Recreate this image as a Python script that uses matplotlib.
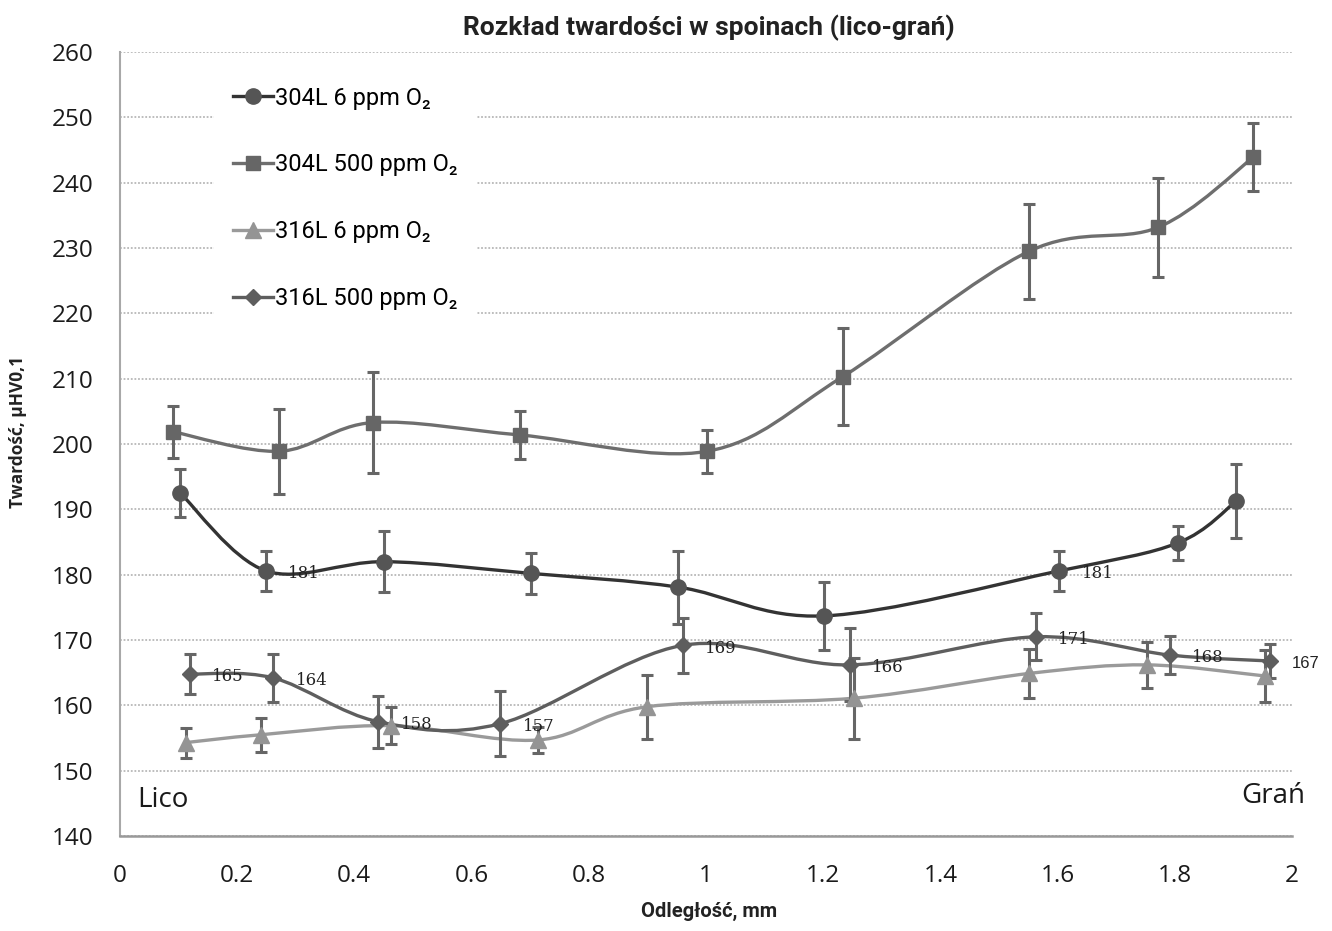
import matplotlib
matplotlib.use("Agg")
import matplotlib.pyplot as plt
from matplotlib.path import Path
from matplotlib.patches import PathPatch
from matplotlib.lines import Line2D

# 304L 6 ppm O2
x_304_6 = [0.103, 0.249, 0.451, 0.702, 0.953, 1.202, 1.603, 1.806, 1.905]
y_304_6 = [192.5, 180.6, 182.0, 180.2, 178.1, 173.7, 180.6, 184.9, 191.3]
e_304_6 = [3.7, 3.1, 4.7, 3.2, 5.6, 5.2, 3.1, 2.6, 5.6]
lab_304_6 = ["", "181", "", "", "", "", "181", "", ""]

# 304L 500 ppm O2
x_304_500 = [0.090, 0.272, 0.432, 0.682, 1.002, 1.233, 1.551, 1.772, 1.934]
y_304_500 = [201.9, 198.9, 203.3, 201.4, 198.9, 210.3, 229.5, 233.2, 243.9]
e_304_500 = [4.0, 6.5, 7.8, 3.7, 3.3, 7.4, 7.3, 7.6, 5.2]

# 316L 6 ppm O2
x_316_6 = [0.112, 0.240, 0.462, 0.713, 0.900, 1.252, 1.552, 1.753, 1.954]
y_316_6 = [154.3, 155.5, 156.9, 154.7, 159.8, 161.1, 164.9, 166.2, 164.5]
e_316_6 = [2.3, 2.6, 2.8, 2.0, 4.9, 6.2, 3.7, 3.5, 4.0]

# 316L 500 ppm O2
x_316_500 = [0.120, 0.262, 0.441, 0.649, 0.961, 1.246, 1.563, 1.792, 1.962]
y_316_500 = [164.8, 164.2, 157.5, 157.2, 169.2, 166.2, 170.5, 167.7, 166.8]
e_316_500 = [3.0, 3.7, 4.0, 5.0, 4.2, 5.6, 3.6, 2.9, 2.6]
lab_316_500 = ["165", "164", "158", "157", "169", "166", "171", "168", "167"]

series_names = ["304L 6 ppm O₂", "304L 500 ppm O₂", "316L 6 ppm O₂", "316L 500 ppm O₂"]
y_ticks = list(range(140, 261, 10))
x_ticks = [0, 0.2, 0.4, 0.6, 0.8, 1, 1.2, 1.4, 1.6, 1.8, 2]
x_tick_labels = ["0", "0.2", "0.4", "0.6", "0.8", "1", "1.2", "1.4", "1.6", "1.8", "2"]

plt.rcParams["font.family"] = ["Roboto", "DejaVu Sans"]
TICK_FONT = ["Open Sans", "DejaVu Sans"]


def smooth_path(xs, ys):
    """Excel-like smoothed line as cubic Bezier segments."""
    pts = list(zip(xs, ys))
    verts = [pts[0]]
    codes = [Path.MOVETO]
    n = len(pts)
    for i in range(n - 1):
        p0 = pts[i - 1] if i > 0 else pts[i]
        p1 = pts[i]
        p2 = pts[i + 1]
        p3 = pts[i + 2] if i + 2 < n else pts[i + 1]
        c1 = (p1[0] + (p2[0] - p0[0]) / 6, p1[1] + (p2[1] - p0[1]) / 6)
        c2 = (p2[0] - (p3[0] - p1[0]) / 6, p2[1] - (p3[1] - p1[1]) / 6)
        verts += [c1, c2, p2]
        codes += [Path.CURVE4] * 3
    return Path(verts, codes)


fig = plt.figure(figsize=(13.32, 9.31), dpi=100)
ax = fig.add_axes([0.090, 0.102, 0.880, 0.842])

styles = [
    (x_304_6, y_304_6, e_304_6, "o", "#333333", "#555555", 11),
    (x_304_500, y_304_500, e_304_500, "s", "#6e6e6e", "#666666", 10),
    (x_316_6, y_316_6, e_316_6, "^", "#9a9a9a", "#949494", 11),
    (x_316_500, y_316_500, e_316_500, "D", "#5e5e5e", "#5e5e5e", 8.5),
]

handles = []
for (xs, ys, es, mk, lc, mc, ms), name in zip(styles, series_names):
    ax.add_patch(PathPatch(smooth_path(xs, ys), fill=False, edgecolor=lc,
                           lw=2.4, zorder=3))
    ax.errorbar(xs, ys, yerr=es, fmt="none", ecolor="#666666", elinewidth=2.2,
                capsize=4.5, capthick=2.2, zorder=4)
    ax.plot(xs, ys, linestyle="none", marker=mk, markersize=ms, color=mc,
            zorder=5)
    handles.append(Line2D([], [], color=lc, lw=2.4, marker=mk,
                          markersize=ms, markerfacecolor=mc,
                          markeredgecolor=mc))

# data labels
for xv, yv, t in zip(x_304_6, y_304_6, lab_304_6):
    if t:
        ax.annotate(t, (xv, yv), xytext=(16, -2), textcoords="offset points",
                    ha="left", va="center", fontsize=12,
                    family="DejaVu Serif", color="#222222", zorder=6)
for i, (xv, yv, t) in enumerate(zip(x_316_500, y_316_500, lab_316_500)):
    fam = "Liberation Sans" if i == len(lab_316_500) - 1 else "DejaVu Serif"
    ax.annotate(t, (xv, yv), xytext=(16, -2), textcoords="offset points",
                ha="left", va="center", fontsize=12, family=fam,
                color="#222222", zorder=6, annotation_clip=False)

ax.set_xlim(0, 2)
ax.set_ylim(140, 260)
ax.set_yticks(y_ticks)
ax.set_xticks(x_ticks)
ax.set_xticklabels(x_tick_labels)
ax.tick_params(axis="both", length=0, labelsize=17.5, colors="#1a1a1a")
ax.tick_params(axis="y", pad=19)
ax.tick_params(axis="x", pad=20)
for lbl in ax.get_xticklabels() + ax.get_yticklabels():
    lbl.set_family(TICK_FONT)
    lbl.set_fontweight("medium")

ax.grid(axis="y", linestyle=(0, (1, 1)), color="#b8b8b8", lw=1.3)
ax.set_axisbelow(True)
for s in ["top", "right"]:
    ax.spines[s].set_visible(False)
ax.spines["left"].set_color("#a8a8a8")
ax.spines["left"].set_linewidth(1.5)
ax.spines["bottom"].set_color("#999999")
ax.spines["bottom"].set_linewidth(1.8)

ax.text(0.015, 0.046, "Lico", transform=ax.transAxes, fontsize=20,
        family=TICK_FONT, color="#1a1a1a", va="center")
ax.text(1.011, 0.051, "Grań", transform=ax.transAxes, fontsize=20,
        family=TICK_FONT, color="#1a1a1a", va="center", ha="right")

leg = ax.legend(handles, series_names, loc="upper left",
                bbox_to_anchor=(0.07, 0.995), frameon=True, facecolor="white",
                edgecolor="none", framealpha=1, fancybox=False, fontsize=17,
                handlelength=1.7, handletextpad=0.1, labelspacing=1.85,
                borderpad=0.8)
leg.set_zorder(2)

fig.text(0.532, 0.970, "Rozkład twardości w spoinach (lico-grań)",
         ha="center", va="center", fontsize=19, fontweight="bold",
         color="#222222")
fig.text(0.532, 0.021, "Odległość, mm", ha="center", va="center",
         fontsize=14.5, fontweight="bold", color="#222222")
fig.text(0.0135, 0.536, "Twardość, µHV0,1", ha="center", va="center",
         rotation=90, fontsize=12.5, fontweight="bold", color="#222222",
         family=TICK_FONT)

fig.savefig("out.png", dpi=100, facecolor="white")
